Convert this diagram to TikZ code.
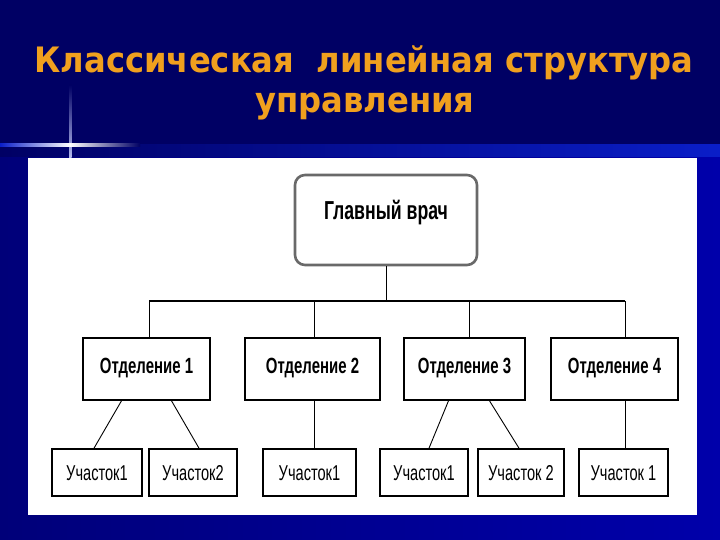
\documentclass[tikz,border=0pt]{standalone}
\usepackage{fontspec}
\usepackage{tikz}
\usetikzlibrary{calc}
\setmainfont{Liberation Sans}
\newfontfamily\titlefont[FakeStretch=0.92]{DejaVu Sans}
\newfontfamily\boxfont[FakeStretch=0.68]{Liberation Sans}
\definecolor{navy}{RGB}{0,0,100}
\definecolor{bandblue}{RGB}{10,30,200}
\definecolor{sideblue}{RGB}{0,0,170}
\definecolor{titleorange}{RGB}{240,160,30}
\definecolor{framegray}{RGB}{105,105,105}
\newcommand{\busy}{301}

\begin{document}
\begin{tikzpicture}[x=1pt,y=-1pt,
    titletext/.style={anchor=base,text=titleorange,inner sep=0pt,font=\titlefont\bfseries\fontsize{35}{35}\selectfont},
    chiefbox/.style={draw=framegray,line width=2.6pt,rounded corners=10pt,fill=white,inner sep=0pt,
      minimum width=182pt,minimum height=90pt,text height=40pt,text depth=40pt,
      font=\boxfont\bfseries\fontsize{26}{26}\selectfont},
    deptbox/.style={draw=black,line width=1.6pt,fill=white,inner sep=0pt,
      minimum height=62pt,text height=16pt,text depth=8pt,
      font=\boxfont\bfseries\fontsize{22}{22}\selectfont},
    unitbox/.style={draw=black,line width=1.6pt,fill=white,inner sep=0pt,
      minimum height=47pt,text height=15pt,text depth=0pt,
      font=\boxfont\fontsize{21.5}{21.5}\selectfont},
    link/.style={line width=0.9pt},
    bus/.style={line width=1.5pt}]
  \useasboundingbox (0,0) rectangle (720,540);
  % background
  \fill[navy] (0,0) rectangle (720,540);
  \shade[left color=navy!70!sideblue,right color=sideblue] (0,157) rectangle (720,540);
  \shade[left color=navy,right color=bandblue] (0,145) rectangle (720,157);
  % sparkle
  \shade[top color=navy,bottom color=white!70!bandblue] (69,85) rectangle (71.5,158);
  \shade[left color=bandblue,right color=navy,middle color=white] (0,144) rectangle (140,146.5);
  % white panel
  \fill[white] (28,158) rectangle (697,515);
  % title
  \node[titletext] (title1) at (364,73) {Классическая\ \ линейная структура};
  \node[titletext] (title2) at (365,113) {управления};
  % boxes
  \node[chiefbox] (chief) at (386,220) {Главный врач};
  \foreach \n/\x/\w/\t in {d1/146.5/127/1,d2/312.5/135/2,d3/464.5/121/3,d4/614.5/127/4}{
    \node[deptbox,minimum width=\w pt] (\n) at (\x,369) {Отделение \t};
  }
  \foreach \n/\x/\w/\t in {u1/97/90/Участок1,u2/193/88/Участок2,u3/309.5/93/Участок1,
      u4/424/88/Участок1,u5/521/86/Участок 2,u6/623.5/89/Участок 1}{
    \node[unitbox,minimum width=\w pt] (\n) at (\x,472.5) {\t};
  }
  % connectors
  \coordinate (bus1) at (149,\busy);
  \coordinate (bus2) at (314,\busy);
  \coordinate (bus3) at (469,\busy);
  \coordinate (bus4) at (625,\busy);
  \draw[link] (chief.south) -- (chief.south |- bus1);
  \draw[bus] (bus1) -- (bus4);
  \foreach \b/\d in {1/d1,2/d2,3/d3,4/d4}{
    \draw[link] (bus\b) -- (bus\b |- \d.north);
  }
  \draw[link] ([xshift=-25pt]d1.south) -- ([xshift=-3pt]u1.north);
  \draw[link] ([xshift=25pt]d1.south) -- ([xshift=6pt]u2.north);
  \draw[link] (bus2 |- d2.south) -- (bus2 |- u3.north);
  \draw[link] ([xshift=-16pt]d3.south) -- ([xshift=5pt]u4.north);
  \draw[link] ([xshift=25pt]d3.south) -- ([xshift=-2pt]u5.north);
  \draw[link] (bus4 |- d4.south) -- (bus4 |- u6.north);
\end{tikzpicture}
\end{document}
